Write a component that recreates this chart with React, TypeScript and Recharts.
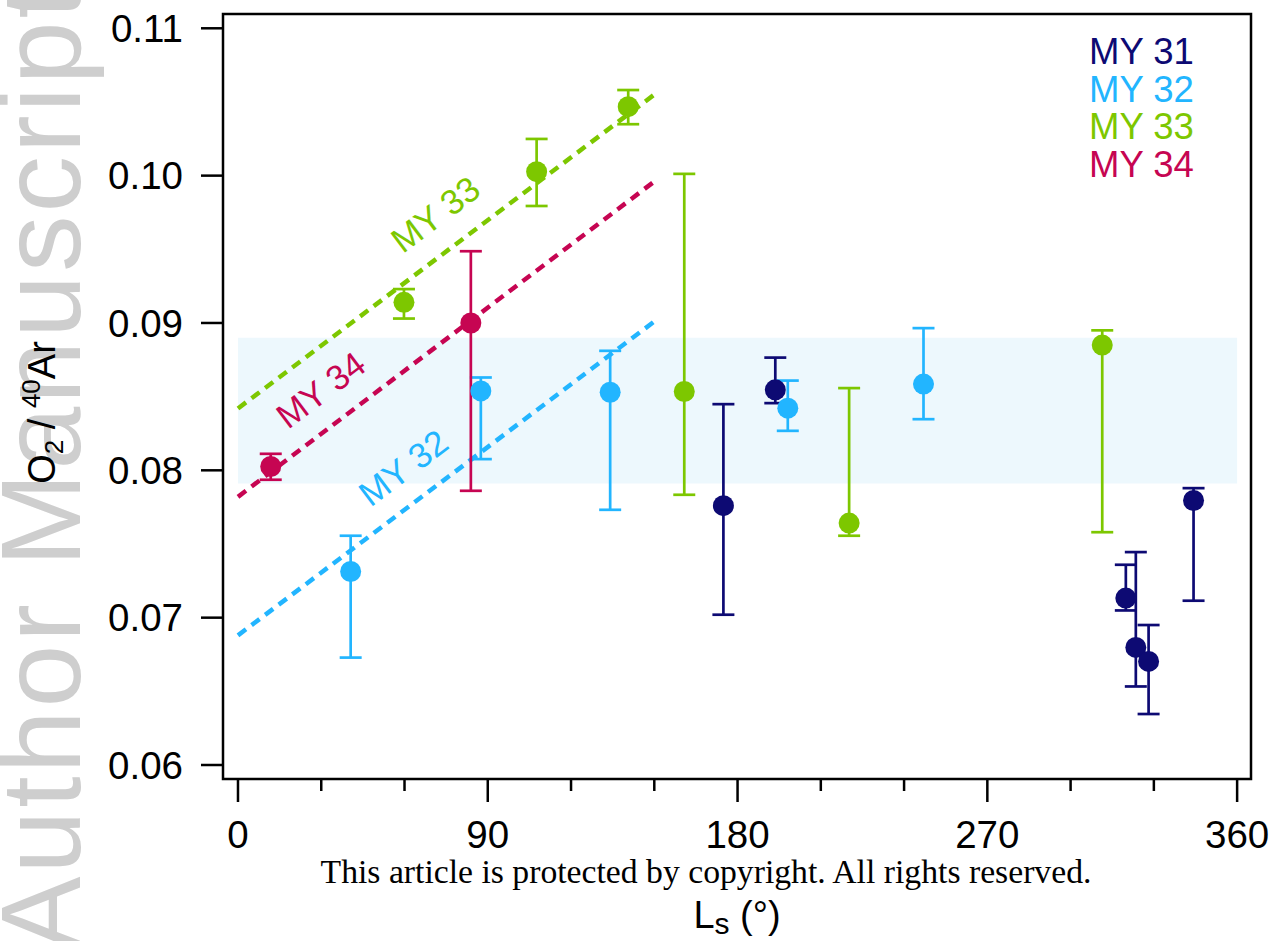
import React from 'react';
import {
  ScatterChart, Scatter, XAxis, YAxis, ErrorBar, ReferenceArea, ReferenceLine, Legend, Label,
} from 'recharts';

// Mars years, Ls in degrees, O2/40Ar ratio with lower / upper bounds of the error bars
const my31Ls = [174.9, 193.6, 319.9, 323.5, 328.1, 344.3];
const my31Ratio = [0.0776, 0.08546, 0.07133, 0.06798, 0.06703, 0.07795];
const my31Low = [0.0702, 0.08456, 0.07049, 0.06533, 0.06346, 0.07115];
const my31High = [0.08449, 0.08765, 0.07359, 0.07445, 0.0695, 0.07879];

const my32Ls = [40.6, 87.5, 134.1, 198.1, 247.0];
const my32Ratio = [0.07313, 0.08539, 0.0853, 0.08422, 0.08585];
const my32Low = [0.06729, 0.08076, 0.07732, 0.08268, 0.08347];
const my32High = [0.07556, 0.0863, 0.08811, 0.08609, 0.08965];

const my33Ls = [59.8, 107.6, 140.6, 160.8, 220.2, 311.4];
const my33Ratio = [0.0914, 0.10027, 0.10468, 0.08535, 0.07642, 0.0885];
const my33Low = [0.0903, 0.09794, 0.10349, 0.07834, 0.07556, 0.0758];
const my33High = [0.0923, 0.10249, 0.10581, 0.10012, 0.08558, 0.0895];

const my34Ls = [11.8, 83.9];
const my34Ratio = [0.08026, 0.09];
const my34Low = [0.07936, 0.07861];
const my34High = [0.08112, 0.09487];

// linear fits drawn over the first half of the year
const trendLs = [0, 150];
const my33Trend = [0.0842, 0.1055];
const my34Trend = [0.0782, 0.0996];
const my32Trend = [0.0688, 0.0901];

// shaded range
const bandLs = [0, 360];
const bandRatio = [0.0791, 0.089];

const xTicks = [0, 30, 60, 90, 120, 150, 180, 210, 240, 270, 300, 330, 360];
const yTicks = [0.06, 0.07, 0.08, 0.09, 0.1, 0.11];
const xDomain = [-5.4, 365];
const yDomain = [0.05905, 0.11097];

const NAVY = '#0d0a73';
const BLUE = '#22b5ff';
const GREEN = '#7dc700';
const RED = '#c60552';

const FONT = "'Liberation Sans', Arial, Helvetica, sans-serif";

const toRows = (ls: number[], r: number[], lo: number[], hi: number[]) =>
  ls.map((x, i) => ({ x, y: r[i], err: [r[i] - lo[i], hi[i] - r[i]] }));

const series = [
  { name: 'MY 31', color: NAVY, data: toRows(my31Ls, my31Ratio, my31Low, my31High) },
  { name: 'MY 32', color: BLUE, data: toRows(my32Ls, my32Ratio, my32Low, my32High) },
  { name: 'MY 33', color: GREEN, data: toRows(my33Ls, my33Ratio, my33Low, my33High) },
  { name: 'MY 34', color: RED, data: toRows(my34Ls, my34Ratio, my34Low, my34High) },
];

const trends = [
  { name: 'MY 33', color: GREEN, y: my33Trend, at: 79, off: 24 },
  { name: 'MY 34', color: RED, y: my34Trend, at: 37.5, off: 23 },
  { name: 'MY 32', color: BLUE, y: my32Trend, at: 67, off: 22 },
];

const LsTick = (props: any) => {
  const { x, y, payload } = props;
  const major = payload.value % 90 === 0;
  return (
    <g>
      <line x1={x} x2={x} y1={y} y2={y + (major ? 23 : 12)} stroke="#000" strokeWidth={2.5} />
      {major && (
        <text x={x} y={y + 69} textAnchor="middle" fontSize={38.5} fill="#000" fontFamily={FONT}>
          {payload.value}
        </text>
      )}
    </g>
  );
};

const trendLabel = (name: string, color: string, at: number, off: number) => (props: any) => {
  const vb = props.viewBox || {};
  const { x = 0, y = 0, width = 0, height = 0 } = vb;
  const t = (at - trendLs[0]) / (trendLs[1] - trendLs[0]);
  const px = x + t * width;
  const py = y + height - t * height;
  const angle = (-Math.atan2(height, width) * 180) / Math.PI;
  return (
    <text
      x={px}
      y={py}
      dy={-off}
      textAnchor="middle"
      transform={`rotate(${angle} ${px} ${py})`}
      fontSize={35}
      fill={color}
      fontFamily={FONT}
    >
      {name}
    </text>
  );
};

const LegendList = (props: any) => {
  const { payload = [] } = props;
  return (
    <div style={{ fontFamily: FONT, fontSize: 36.5, lineHeight: '37.5px' }}>
      {payload.map((p: any) => (
        <div key={p.value} style={{ color: p.color }}>{p.value}</div>
      ))}
    </div>
  );
};

export default function App() {
  return (
    <div style={{ position: 'absolute', left: 0, top: 0, width: 1273, height: 941, background: '#fff', fontFamily: FONT, overflow: 'hidden' }}>
      <svg width={1273} height={941} style={{ position: 'absolute', left: 0, top: 0 }}>
        <text
          x={80}
          y={468}
          transform="rotate(-90 80 468)"
          textAnchor="middle"
          fontSize={113}
          letterSpacing={3}
          fill="#cecece"
          fontFamily={FONT}
        >
          Author Manuscript
        </text>
        <text x={706} y={883} textAnchor="middle" fontSize={33.7} fill="#000" fontFamily="'Liberation Serif', 'Times New Roman', serif">
          This article is protected by copyright. All rights reserved.
        </text>
      </svg>
      <div style={{ position: 'absolute', left: 0, top: 0 }}>
        <ScatterChart width={1273} height={941} margin={{ top: 14, right: 22, left: 0, bottom: 102 }}>
          <ReferenceArea x1={bandLs[0]} x2={bandLs[1]} y1={bandRatio[0]} y2={bandRatio[1]} fill="#edf8fd" fillOpacity={1} stroke="none" ifOverflow="visible" />
          <XAxis
            type="number"
            dataKey="x"
            domain={xDomain}
            ticks={xTicks}
            allowDataOverflow
            axisLine={false}
            tickLine={false}
            tickSize={0}
            tickMargin={0}
            height={60}
            tick={<LsTick />}
            interval={0}
          >
            <Label
              content={(p: any) => {
                const vb = p.viewBox || { x: 223, y: 779, width: 1028 };
                const cx = vb.x + vb.width / 2;
                return (
                  <text x={cx} y={vb.y + 149} textAnchor="middle" fontSize={38} fill="#000" fontFamily={FONT}>
                    L<tspan fontSize={30} dy={6}>s</tspan>
                    <tspan dy={-6}> (°)</tspan>
                  </text>
                );
              }}
            />
          </XAxis>
          <YAxis
            type="number"
            dataKey="y"
            domain={yDomain}
            ticks={yTicks}
            allowDataOverflow
            axisLine={false}
            tickLine={{ stroke: '#000', strokeWidth: 2.5 }}
            tickSize={22}
            tickMargin={18}
            width={223}
            tickFormatter={(v: number) => v.toFixed(2)}
            tick={{ fontSize: 38.5, fill: '#000', fontFamily: FONT }}
            interval={0}
          >
            <Label
              content={(p: any) => {
                const vb = p.viewBox || { x: 0, y: 14, height: 765 };
                const lx = vb.x + 55;
                const ly = vb.y + vb.height / 2 + 16;
                return (
                  <text x={lx} y={ly} transform={`rotate(-90 ${lx} ${ly})`} textAnchor="middle" fontSize={38} fill="#000" fontFamily={FONT}>
                    O<tspan fontSize={26} dy={8}>2</tspan>
                    <tspan dy={-8}> / </tspan>
                    <tspan fontSize={26} dy={-15}>40</tspan>
                    <tspan dy={15}>Ar</tspan>
                  </text>
                );
              }}
            />
          </YAxis>
          {trends.map((t) => (
            <ReferenceLine
              key={t.name}
              segment={[{ x: trendLs[0], y: t.y[0] }, { x: trendLs[1], y: t.y[1] }]}
              stroke={t.color}
              strokeWidth={4.5}
              strokeDasharray="10 7"
              ifOverflow="visible"
              label={trendLabel(t.name, t.color, t.at, t.off)}
            />
          ))}
          {series.map((s) => (
            <Scatter
              key={s.name}
              name={s.name}
              data={s.data}
              fill={s.color}
              isAnimationActive={false}
              shape={(p: any) => <circle cx={p.cx} cy={p.cy} r={10.5} fill={s.color} />}
            >
              <ErrorBar dataKey="err" direction="y" width={11} stroke={s.color} strokeWidth={2.7} isAnimationActive={false} />
            </Scatter>
          ))}
          <ReferenceArea
            x1={xDomain[0]}
            x2={xDomain[1]}
            y1={yDomain[0]}
            y2={yDomain[1]}
            fill="none"
            stroke="#000"
            strokeWidth={2.5}
            ifOverflow="visible"
          />
          <Legend
            layout="vertical"
            align="center"
            verticalAlign="middle"
            content={<LegendList />}
            wrapperStyle={{ position: 'absolute', top: 33, left: 1089, width: 'auto' }}
          />
        </ScatterChart>
      </div>
    </div>
  );
}
